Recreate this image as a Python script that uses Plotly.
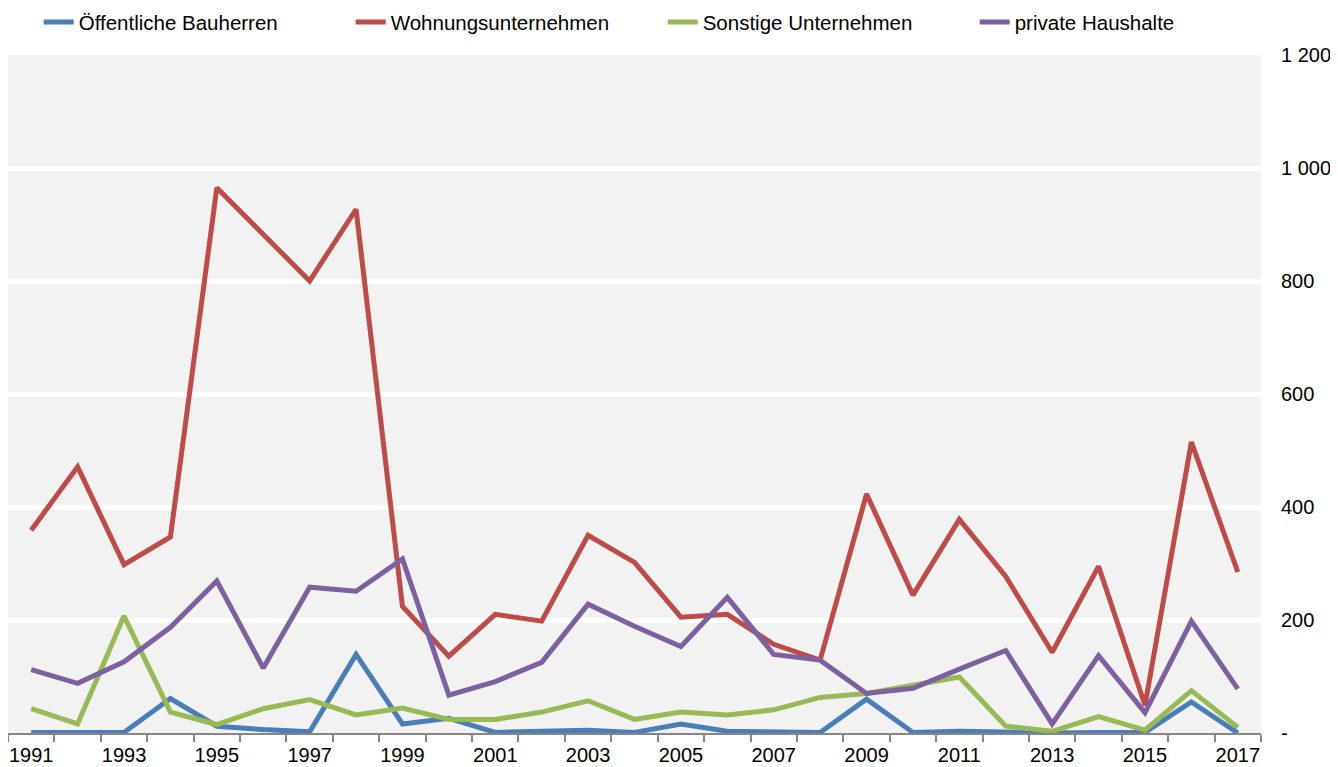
import plotly.graph_objects as go

years = list(range(1991, 2018))

oeffentliche = [1, 0, 1, 61, 12, 6, 2, 139, 16, 26, 1, 3, 5, 1, 16, 3, 1, 1, 60, 1, 3, 1, 0, 1, 1, 55, 0]
wohnungsunternehmen = [359, 471, 298, 347, 965, 882, 800, 927, 224, 136, 210, 198, 350, 302, 205, 210, 157, 129, 423, 244, 378, 277, 143, 295, 49, 515, 285]
sonstige = [43, 16, 207, 37, 15, 43, 59, 32, 44, 24, 24, 37, 57, 24, 37, 32, 41, 63, 70, 84, 99, 12, 3, 29, 5, 75, 10]
private = [112, 88, 126, 187, 269, 115, 258, 251, 308, 67, 91, 125, 228, 189, 153, 240, 139, 129, 70, 79, 113, 146, 16, 137, 36, 198, 78]

series_names = ["Öffentliche Bauherren", "Wohnungsunternehmen", "Sonstige Unternehmen", "private Haushalte"]
series_values = [oeffentliche, wohnungsunternehmen, sonstige, private]
colors = ["#4A7EBB", "#BE4B48", "#98B954", "#7D60A0"]

y_tickvals = [0, 200, 400, 600, 800, 1000, 1200]
y_ticktext = ["-", "200", "400", "600", "800", "1 000", "1 200"]
x_label_years = list(range(1991, 2018, 2))

FONT = "Liberation Sans, Arial, sans-serif"

fig = go.Figure()
for name, vals, col in zip(series_names, series_values, colors):
    fig.add_trace(go.Scatter(
        x=years, y=vals, name=name, mode="lines",
        line=dict(color=col, width=5),
    ))

fig.update_layout(
    width=1330, height=759,
    margin=dict(l=0, r=77, t=47, b=34, pad=0, autoexpand=False),
    paper_bgcolor="white",
    plot_bgcolor="#F2F2F2",
    font=dict(family=FONT, size=20, color="#000000"),
    showlegend=True,
    legend=dict(
        orientation="h", xref="paper", yref="paper",
        x=0.0245, xanchor="left", y=1.078, yanchor="top",
        entrywidth=267, entrywidthmode="pixels",
        font=dict(family=FONT, size=20.5, color="#000000"),
        bgcolor="rgba(0,0,0,0)", itemclick=False,
    ),
    xaxis=dict(
        range=[1990.5, 2017.5],
        tickmode="array", tickvals=x_label_years,
        ticktext=[str(y) for y in x_label_years],
        ticks="", showgrid=False, zeroline=False,
        showline=True, linecolor="#868686", linewidth=1.5,
        ticklabelstandoff=3,
        tickfont=dict(family=FONT, size=20, color="#000000"),
        minor=dict(tickmode="linear", tick0=1990.5, dtick=1,
                   ticks="outside", ticklen=7, tickcolor="#868686",
                   tickwidth=1.5, showgrid=False),
        automargin=False,
    ),
    yaxis=dict(
        range=[0, 1200], side="right",
        tickmode="array", tickvals=y_tickvals, ticktext=y_ticktext,
        showgrid=True, gridcolor="white", gridwidth=5,
        zeroline=False, showline=False, ticks="",
        ticklabelstandoff=19,
        tickfont=dict(family=FONT, size=20, color="#000000"),
        automargin=False,
    ),
)

fig.write_html("out.html")
